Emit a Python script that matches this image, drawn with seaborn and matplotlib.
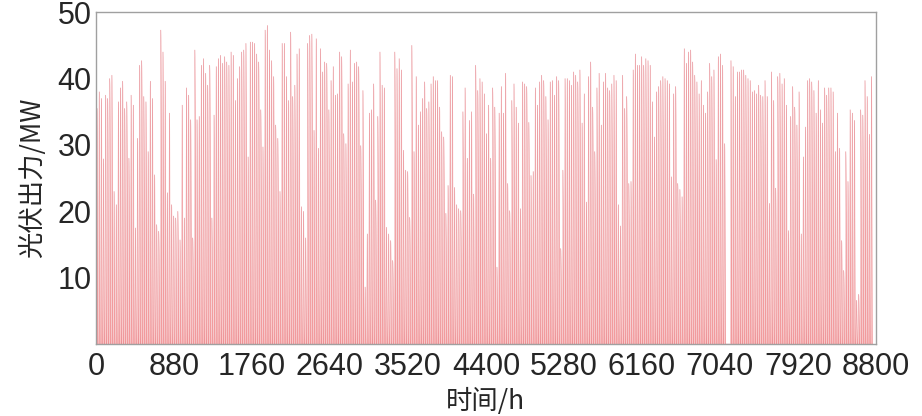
import numpy as np
import pandas as pd
import matplotlib
matplotlib.use("Agg")
import matplotlib.pyplot as plt
import seaborn as sns

# daily peak PV output (MW), day 1..365
peaks_q1 = [35.5, 38, 37, 27.9, 37.5, 37, 40, 40.5, 23, 21,
            36.5, 38.6, 39.6, 35.5, 36.5, 28, 37.5, 36, 17.5, 31,
            42, 42.7, 37.3, 36.5, 29, 39.6, 37, 25.5, 18, 17,
            47.3, 44, 39.6, 22.8, 34.8, 21, 19.3, 19, 20, 15.7,
            36, 19, 38.6, 37.5, 33.8, 16, 44.3, 33.8, 34.3, 42,
            43, 40.8, 39,
            42, 19, 34.5, 41.8, 43, 43.5, 42.3, 43.3, 42.5, 42,
            44, 43.5, 36.7, 40, 41.8, 44, 44.3, 45.3, 28.2, 45.5,
            45.5, 45.3, 43.7, 42.5, 35.3, 29.7, 47.3, 48, 44.3, 42.7,
            40.3, 33, 31, 23, 45.3, 45.3, 40.3, 36.7, 47, 37.3,
            39, 43.7, 44.5, 20.7, 20, 16, 45.3, 46.5, 46.7, 32.2,
            46, 29.5]
peaks_q2 = [44.5, 41, 42.5, 42.3, 35.3, 39.7, 41.8, 37.5, 37.7, 44,
            43.3, 31.7, 30.2, 39.2, 44.3, 39.5, 42.3, 42.5, 41.8, 29.9,
            38.2, 8.6, 16.6, 34.8, 35.3, 39.2, 21.7, 34.3, 44, 39,
            38.6, 17.6, 16.6, 15.6, 12.6, 44, 41.5, 43, 41.3, 29.2,
            26.2, 26, 19.1, 45, 29, 40.3, 33, 35, 37, 39.5,
            35.5, 36.5, 39.2,
            40.3, 39.7, 39.7, 35.7, 32, 31.2, 19.7, 23.9, 40.5, 40.3,
            23.6, 21, 20.4, 20.1, 35, 38.6, 28, 33.7, 35, 22.6,
            42, 38.2, 40, 39.5, 37.7, 31.7, 36, 28, 38.6, 35.7,
            11.6, 34.8, 38.8, 34.8, 40.8, 24.2, 20.1, 36.7, 39.2, 35.7,
            33.3, 20.4, 39.5, 39.2, 38.8, 33.4, 25.4, 26, 38.6, 36,
            39.5, 40.5]
peaks_q3 = [39.7, 37.3, 33.8, 39.5, 39.7, 37.5, 40.3, 39.7, 14.4, 26.2,
            40, 40, 39.7, 39, 41, 40.5, 39.5, 41.3, 33.3, 37.7,
            21.4, 40.3, 42.5, 35.7, 29, 38.6, 40.8, 33, 39.5, 40.8,
            38.6, 38.2, 39.2, 40.5, 39.7, 21, 17.8, 40.5, 35.5, 37.3,
            24.2, 24.5, 41.3, 43.7, 42, 42, 43.3, 42, 43, 42.7,
            42, 36.5, 31.2,
            38, 38.8, 39.7, 40.3, 40, 39.7, 39.2, 25.2, 37.7, 38.8,
            24.2, 23.3, 22.2, 44.5, 42.3, 44, 44.3, 42.5, 40.5, 39.5,
            37.7, 39.7, 36, 34.8, 38, 42.3, 40.3, 41.3, 27.8, 43.3,
            43.7, 42, 30.2, 0, 0, 42.7, 41.8, 37.3, 41, 41,
            41.3, 41.3, 40.5, 40, 39.7, 38, 38.2, 37.7, 39, 37.5,
            37.3, 39.7, 37.3]
peaks_q4 = [21.2, 41, 36.7, 23.5, 40.3, 40.8, 39.2, 40, 36, 17.1,
            34.3, 38.8, 35.7, 33, 38, 16.6, 28.2, 32.7, 39.7, 40,
            39.5, 38.2, 34.8, 39.7, 35.3, 33.3, 38.6, 37.5, 38.6, 38.6,
            38, 29, 34.8, 29.5, 15.6, 11.1, 29, 24.5, 35.3, 34.8,
            33.7, 6.6, 7.5, 35.3, 34.5, 39.7, 37.3, 31.6, 40.3]

# share of the daily peak reached in each hour of the day (0..23)
hour_shape = [0, 0, 0, 0, 0.02, 0.08, 0.2, 0.38, 0.57, 0.74, 0.88, 0.97,
              1.0, 0.98, 0.91, 0.8, 0.64, 0.46, 0.28, 0.13, 0.04, 0, 0, 0]

x_ticks = [0, 880, 1760, 2640, 3520, 4400, 5280, 6160, 7040, 7920, 8800]
y_ticks = [10, 20, 30, 40, 50]

daily_peaks = peaks_q1 + peaks_q2 + peaks_q3 + peaks_q4
pv = np.outer(daily_peaks, hour_shape).ravel()
df = pd.DataFrame({"hour": np.arange(1, len(pv) + 1), "pv": pv})

sns.set_style("white")
plt.rcParams["font.family"] = ["Liberation Sans", "Noto Sans CJK SC", "DejaVu Sans"]

fig = plt.figure(figsize=(9.22, 4.16), dpi=100)
ax = fig.add_axes([0.104, 0.173, 0.846, 0.798])

ax.fill_between(df["hour"], 0, df["pv"], color="#f9b3b3", linewidth=0)
sns.lineplot(data=df, x="hour", y="pv", ax=ax, color="#d8404c",
             linewidth=0.3, alpha=0.5)

ax.set_xlim(0, 8800)
ax.set_ylim(0, 50)
ax.set_xticks(x_ticks)
ax.set_yticks(y_ticks)
ax.tick_params(axis="both", labelsize=22, colors="#262626")
ax.tick_params(axis="x", length=0, pad=6)
ax.tick_params(axis="y", direction="in", length=4, color="#808080", pad=3)
for s in ax.spines.values():
    s.set_color("#a0a0a0")
    s.set_linewidth(1.0)

ax.set_xlabel("时间/h", fontsize=19, color="#262626",
              family=["Noto Sans CJK SC", "DejaVu Sans"], labelpad=4)
ax.set_ylabel("光伏出力/MW", fontsize=19, color="#262626",
              family=["Noto Sans CJK SC", "DejaVu Sans"], labelpad=8)

fig.savefig("out.png", dpi=100)
